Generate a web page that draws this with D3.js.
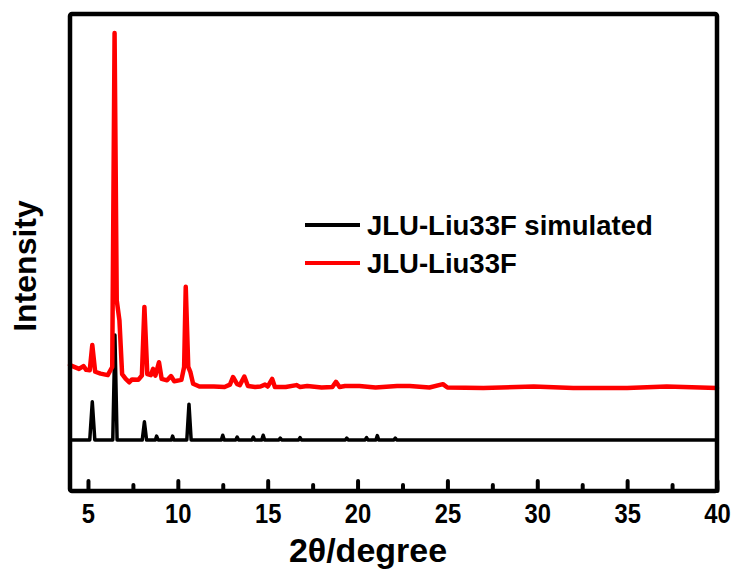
<!DOCTYPE html>
<html>
<head>
<meta charset="utf-8">
<script src="https://cdn.jsdelivr.net/npm/d3@7"></script>
<style>
  body { margin: 0; background: #fff; }
  text { font-family: "Liberation Sans", Arial, sans-serif; font-weight: bold; fill: #000; }
</style>
</head>
<body>
<div id="chart"></div>
<script>
// measured pattern (2theta, intensity a.u.)
var simulated = [
  [4.0, 10.7], [5.1, 10.7], [5.24, 18.7], [5.38, 10.7], [6.38, 10.7], [6.5, 32.7], [6.62, 10.7],
  [8.02, 10.7], [8.14, 14.5], [8.26, 10.7], [8.75, 10.7], [8.82, 11.5], [8.9, 10.7],
  [9.64, 10.7], [9.71, 11.5], [9.78, 10.7], [10.5, 10.7], [10.62, 18.2], [10.74, 10.7],
  [12.42, 10.7], [12.5, 11.7], [12.58, 10.7], [13.22, 10.7], [13.3, 11.3], [13.38, 10.7],
  [14.12, 10.7], [14.2, 11.3], [14.28, 10.7], [14.67, 10.7], [14.75, 11.7], [14.83, 10.7],
  [15.62, 10.7], [15.7, 11.1], [15.78, 10.7], [16.72, 10.7], [16.8, 11.2], [16.88, 10.7],
  [19.32, 10.7], [19.4, 11.1], [19.48, 10.7], [20.42, 10.7], [20.5, 11.2], [20.58, 10.7],
  [21.02, 10.7], [21.1, 11.6], [21.18, 10.7], [22.02, 10.7], [22.1, 11.1], [22.18, 10.7],
  [40.0, 10.7]
];

var experimental = [
  [4.0, 26.4], [4.5, 25.6], [4.75, 26.2], [4.9, 25.4], [5.1, 25.3], [5.24, 30.6], [5.4, 25.0],
  [5.7, 24.6], [6.1, 24.3], [6.35, 26.0], [6.48, 96.0], [6.6, 40.0], [6.75, 35.8], [6.9, 24.5],
  [7.1, 23.5], [7.3, 22.8], [7.45, 23.4], [7.8, 23.3], [8.0, 24.2], [8.14, 38.6], [8.3, 24.5],
  [8.5, 24.3], [8.62, 25.6], [8.75, 24.2], [8.95, 27.0], [9.1, 23.5], [9.4, 23.2], [9.62, 24.1],
  [9.8, 23.0], [10.2, 23.3], [10.35, 26.0], [10.44, 42.8], [10.58, 26.0], [10.7, 24.9],
  [10.85, 22.5], [11.2, 21.9], [12.0, 21.9], [12.6, 21.8], [12.9, 22.3], [13.07, 23.9],
  [13.3, 22.4], [13.45, 22.2], [13.7, 24.0], [13.9, 22.0], [14.3, 21.8], [14.6, 21.9],
  [14.85, 22.3], [15.0, 21.9], [15.25, 23.5], [15.4, 21.8], [16.0, 21.8], [16.6, 22.2],
  [16.8, 21.8], [17.2, 22.0], [18.0, 21.7], [18.6, 21.8], [18.8, 22.9], [19.0, 21.8],
  [19.3, 22.0], [20.1, 22.0], [21.0, 21.7], [22.2, 22.0], [22.9, 22.0], [24.0, 21.7],
  [24.75, 22.4], [25.0, 21.7], [27.0, 21.6], [29.8, 21.9], [32.0, 21.6], [35.0, 21.6],
  [37.2, 21.9], [40.0, 21.6]
];

var seriesNames = ["JLU-Liu33F simulated", "JLU-Liu33F"];
var seriesColors = ["#000000", "#ff0000"];
var majorTicks = [5, 10, 15, 20, 25, 30, 35, 40];
var minorTicks = [7.5, 12.5, 17.5, 22.5, 27.5, 32.5, 37.5];

(function(){
    var width = 734;
    var height = 570;
    var left = 70, right = 717, top = 14, bottom = 491;

    var svg = d3.select("#chart")
        .append("svg")
        .attr("width", width)
        .attr("height", height)

    var x = d3.scaleLinear().domain([4, 40]).range([left, right])
    var y = d3.scaleLinear().domain([0, 100]).range([bottom, top])

    var line = d3.line()
        .x(function(d){ return x(d[0]) })
        .y(function(d){ return y(d[1]) })

    svg.append("path")
        .datum(simulated)
        .attr("d", line)
        .attr("fill", "none")
        .attr("stroke", seriesColors[0])
        .attr("stroke-width", 3.5)
        .attr("stroke-linejoin", "round")

    svg.append("path")
        .datum(experimental)
        .attr("d", line)
        .attr("fill", "none")
        .attr("stroke", seriesColors[1])
        .attr("stroke-width", 4.5)
        .attr("stroke-linejoin", "round")
        .attr("stroke-linecap", "round")

    // ticks point inward
    var axis = svg.append("g")
        .attr("transform", "translate(0," + bottom + ")")
        .call(d3.axisBottom(x).tickValues(majorTicks).tickSize(-10).tickPadding(13).tickFormat(d3.format("d")))
    axis.select(".domain").remove()
    axis.selectAll("line").attr("stroke-width", 4).attr("stroke-linecap", "round")
    axis.selectAll("text")
        .attr("font-size", 27)
        .attr("transform", "scale(0.88,1)")
        .style("font-family", "'Liberation Sans', Arial, sans-serif")
        .style("font-weight", "bold")

    var minor = svg.append("g")
        .attr("transform", "translate(0," + bottom + ")")
        .call(d3.axisBottom(x).tickValues(minorTicks).tickSize(-6).tickFormat(""))
    minor.select(".domain").remove()
    minor.selectAll("line").attr("stroke-width", 4).attr("stroke-linecap", "round")

    svg.append("rect")
        .attr("x", left)
        .attr("y", top)
        .attr("width", right - left)
        .attr("height", bottom - top)
        .attr("fill", "none")
        .attr("stroke", "#000")
        .attr("stroke-width", 4.5)
        .attr("rx", 2)

    svg.append("text")
        .attr("x", 368)
        .attr("y", 562)
        .attr("text-anchor", "middle")
        .attr("font-size", 34)
        .text("2θ/degree")

    svg.append("text")
        .attr("transform", "translate(36,266) rotate(-90)")
        .attr("text-anchor", "middle")
        .attr("font-size", 32)
        .text("Intensity")

    var legend = svg.selectAll(".legend")
        .data(seriesNames)
        .enter().append("g")
        .attr("class", "legend")
        .attr("transform", function(d, i){ return "translate(305," + (225 + i * 38) + ")" })

    legend.append("line")
        .attr("x1", 0).attr("x2", 55)
        .attr("stroke", function(d, i){ return seriesColors[i] })
        .attr("stroke-width", 4)

    legend.append("text")
        .attr("x", 62)
        .attr("dy", "0.36em")
        .attr("font-size", 27.5)
        .text(function(d){ return d })
})();
</script>
</body>
</html>
